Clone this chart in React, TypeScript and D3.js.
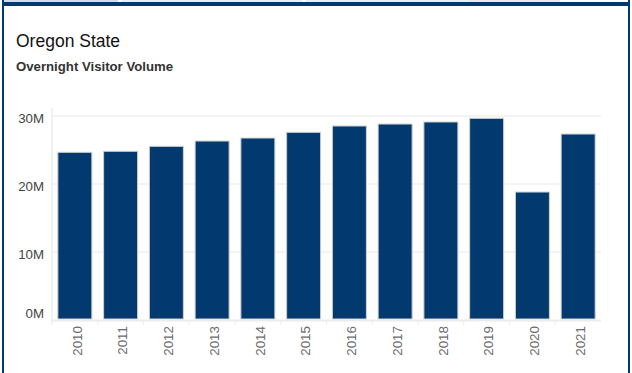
import React from "react";
import * as d3 from "d3";

const years = ["2010","2011","2012","2013","2014","2015","2016","2017","2018","2019","2020","2021"];
const visitors = [24.66, 24.81, 25.54, 26.32, 26.76, 27.6, 28.53, 28.82, 29.12, 29.66, 18.82, 27.35];
const yTicks = [0, 10, 20, 30];

const W = 632, H = 373;
const plotLeft = 52, plotRight = 601, plotTop = 108, plotBottom = 320;

export default function App() {
  const x = d3.scaleBand<string>().domain(years).range([plotLeft, plotRight]).paddingInner(0.257).paddingOuter(0.128);
  const y = d3.scaleLinear().domain([0, 30]).range([plotBottom, 116]);
  const bandStep = (plotRight - plotLeft) / years.length;
  const font = "'Liberation Sans', Arial, sans-serif";
  return (
    <svg width={W} height={H} style={{ position: "fixed", left: 0, top: 0, background: "#fff" }}>
      <rect x={0} y={0} width={W} height={H} fill="#fff" />
      {/* frame */}
      <rect x={4} y={0} width={114} height={2} fill="#d6dbe8" />
      <rect x={122} y={0} width={180} height={2} fill="#eceef4" />
      <rect x={306} y={0} width={164} height={2} fill="#eceef4" />
      <rect x={470} y={0} width={90} height={2} fill="#f0e6e8" />
      <rect x={2} y={2} width={628} height={4} fill="#023a6f" />
      <rect x={2} y={0} width={2} height={H} fill="#023a6f" />
      <rect x={628} y={0} width={2} height={H} fill="#023a6f" />
      {/* titles */}
      <text x={16} y={47} fontFamily={font} fontSize={17.5} fill="#111">Oregon State</text>
      <text x={16} y={71} fontFamily={font} fontSize={13.2} fontWeight="bold" fill="#333">Overnight Visitor Volume</text>
      {/* gridlines */}
      {yTicks.filter(t => t > 0).map(t => (
        <line key={t} x1={plotLeft} x2={plotRight} y1={y(t)} y2={y(t)} stroke="#f0f0f0" strokeWidth={1.5} />
      ))}
      {/* y axis line */}
      <line x1={plotLeft} x2={plotLeft} y1={plotTop} y2={plotBottom + 2} stroke="#ececec" strokeWidth={1.5} />
      {/* y labels */}
      {yTicks.map(t => (
        <text key={t} x={44} y={t === 0 ? y(t) - 7 : y(t) + 2} dy="0.35em" textAnchor="end" fontFamily={font} fontSize={13.3} fill="#444">{`${t}M`}</text>
      ))}
      {/* bars */}
      {years.map((yr, i) => (
        <rect key={yr} x={x(yr)} y={y(visitors[i])} width={x.bandwidth()} height={y(0) - y(visitors[i]) - 1}
          fill="#023a6f" stroke="#d0d0d0" strokeWidth={1} />
      ))}
      {/* x axis */}
      <line x1={plotLeft} x2={plotRight} y1={plotBottom + 0.5} y2={plotBottom + 0.5} stroke="#ececec" strokeWidth={2} />
      {years.map((yr, i) => (
        <line key={"t" + yr} x1={plotLeft + i * bandStep} x2={plotLeft + i * bandStep} y1={plotBottom} y2={plotBottom + 5} stroke="#ececec" strokeWidth={1} />
      ))}
      {years.map(yr => {
        const cx = (x(yr) as number) + x.bandwidth() / 2 + 2;
        return (
          <text key={"l" + yr} transform={`translate(${cx},${326}) rotate(-90)`} textAnchor="end" dy="0.35em"
            fontFamily={font} fontSize={13.4} fill="#6a6a6a">{yr}</text>
        );
      })}
    </svg>
  );
}
